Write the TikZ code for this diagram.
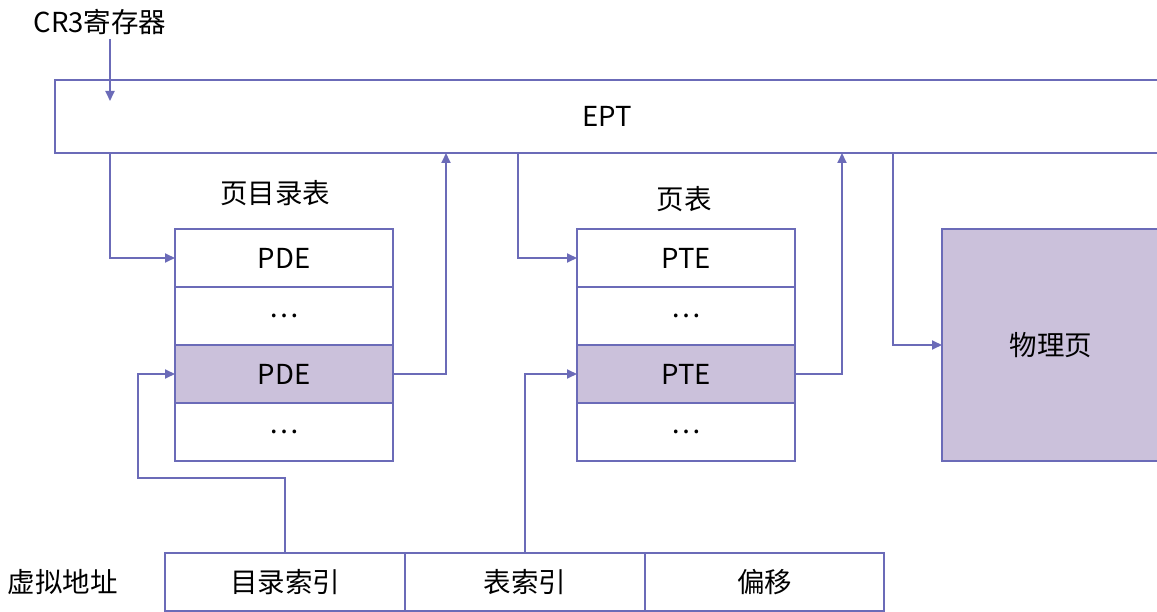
\documentclass[tikz,border=0pt]{standalone}
\usepackage{fontspec}
\setmainfont{Noto Sans CJK SC}
\usetikzlibrary{arrows.meta}
\definecolor{ln}{HTML}{6B6BB8}
\definecolor{fl}{HTML}{CBC1DB}
\begin{document}
\begin{tikzpicture}[x=1pt,y=-1pt,
  every node/.style={font=\fontsize{27.5}{32}\selectfont},
  cell/.style={draw=ln, line width=1.5pt, fill=white, inner sep=0pt, outer sep=0pt,
    minimum width=218pt, minimum height=58pt},
  shaded/.style={cell, fill=fl},
  vabox/.style={cell, minimum width=240pt},
  lbl/.style={inner sep=0pt},
  conn/.style={draw=ln, line width=1.8pt},
  arr/.style={conn, -{Triangle[length=10pt,width=9pt]}}]
\useasboundingbox (0,0) rectangle (1157,612);
\clip (0,0) rectangle (1157,612);
% EPT
\node[cell, minimum width=1104pt, minimum height=73pt] (ept) at (607,116.5) {EPT};
% labels
\node[lbl] (cr3) at (100,22) {CR3寄存器};
\node[lbl] (pdtl) at (275,193) {页目录表};
\node[lbl] (ptl) at (684,199) {页表};
\node[lbl] (val) at (63,582) {虚拟地址};
% PDE table
\node[cell] (pde1) at (284,258) {PDE};
\node[cell] (pde2) at (284,316) {…};
\node[shaded] (pde3) at (284,374) {PDE};
\node[cell] (pde4) at (284,432) {…};
% PTE table
\node[cell] (pte1) at (686,258) {PTE};
\node[cell] (pte2) at (686,316) {…};
\node[shaded] (pte3) at (686,374) {PTE};
\node[cell] (pte4) at (686,432) {…};
% physical page
\node[shaded, minimum height=232pt] (phys) at (1051,345) {物理页};
% virtual address
\node[vabox] (va1) at (285,582) {目录索引};
\node[vabox] (va2) at (525,582) {表索引};
\node[vabox, minimum width=239pt] (va3) at (764.5,582) {偏移};
% x positions
\coordinate (x1) at (110,0);
\coordinate (x2) at (446,0);
\coordinate (x3) at (518,0);
\coordinate (x4) at (842,0);
\coordinate (x5) at (893,0);
\coordinate (x6) at (138,0);
\coordinate (y1) at (0,478);
\coordinate (cr3end) at (110,101);
% connectors
\draw[arr] (cr3.south -| x1) ++(0,4) -- (cr3end);
\draw[arr] (ept.south -| x1) |- (pde1.west);
\draw[arr] (pde3.east) -| (ept.south -| x2);
\draw[arr] (ept.south -| x3) |- (pte1.west);
\draw[arr] (pte3.east) -| (ept.south -| x4);
\draw[arr] (ept.south -| x5) |- (phys.west);
\draw[arr] (va1.north) -- (va1.north |- y1) -- (x6 |- y1) |- (pde3.west);
\draw[arr] (va2.north) |- (pte3.west);
\end{tikzpicture}
\end{document}
